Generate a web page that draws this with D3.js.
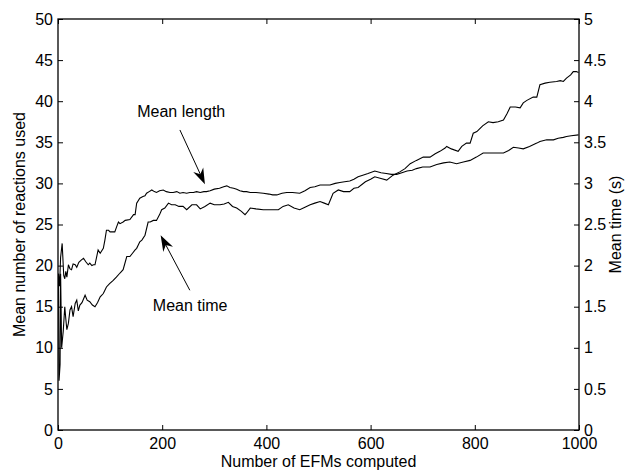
<!DOCTYPE html>
<html>
<head>
<meta charset="utf-8">
<script src="https://cdn.jsdelivr.net/npm/d3@7"></script>
<style>
  body { margin: 0; background: #fff; }
  svg text { font-family: "Liberation Sans", Arial, Helvetica, sans-serif; font-size: 16px; fill: #000; }
  .line { fill: none; stroke: #000; stroke-width: 1.1; }
  .frame line, .frame path { stroke: #000; }
</style>
</head>
<body>
<div id="chart"></div>
<script>
// number of EFMs computed vs mean length (reactions)
var lengthX = [1, 3, 5, 8, 11, 13, 15, 17, 20, 23, 26, 29, 33, 36, 40, 45, 49, 53, 58, 61, 65, 68, 71, 77, 81, 87, 90, 93, 97, 100,
  106, 109, 113, 116, 119, 125, 129, 138, 145, 148, 151, 157, 163, 167, 170, 175, 180, 185, 189, 195, 202, 208, 215, 221, 228,
  234, 240, 247, 253, 260, 266, 273, 280, 285, 292, 300, 310, 318, 324, 330, 337, 343, 349, 356, 362, 369, 380, 394, 405, 412,
  420, 430, 439, 450, 464, 474, 484, 493, 503, 512, 522, 532, 541, 550, 560, 568, 576, 585, 595, 608, 620, 630, 640, 650, 660,
  670, 680, 688, 700, 714, 727, 740, 752, 765, 778, 791, 803, 816, 830, 842, 855, 865, 874, 884, 893, 905, 919, 925, 938, 951,
  960, 970, 976, 985, 999];
var lengthY = [19, 17.5, 21, 22.7, 18.8, 18.4, 19.3, 18.6, 20.1, 19.6, 19.5, 20.2, 20.1, 19.8, 20.4, 20.7, 20.9, 20.5, 20.1, 20.3,
  20.0, 20.1, 20.1, 21.9, 21.5, 22.1, 23.1, 24.3, 24.3, 24.1, 24.1, 24.1, 24.8, 25.3, 25.1, 25.3, 25.5, 25.6, 26.2, 26.2, 27.6,
  28.2, 28.4, 28.5, 28.8, 29.0, 29.2, 29.0, 28.9, 29.1, 29.2, 29.0, 28.9, 28.9, 29.0, 28.8, 28.9, 28.8, 28.9, 28.9, 29.0, 28.9,
  29.0, 29.0, 29.1, 29.3, 29.4, 29.6, 29.7, 29.5, 29.4, 29.3, 29.1, 29.0, 29.0, 28.9, 28.9, 28.8, 28.7, 28.6, 28.6, 28.8, 28.9,
  28.9, 28.8, 29.1, 29.5, 29.6, 29.8, 29.8, 29.8, 30.0, 30.1, 30.2, 30.3, 30.5, 30.8, 31.0, 31.2, 31.5, 31.3, 31.2, 31.1, 31.1,
  31.3, 31.5, 31.6, 31.8, 32.0, 32.0, 32.3, 32.5, 32.6, 32.4, 32.6, 32.8, 33.2, 33.7, 33.7, 33.7, 33.7, 34.0, 34.4, 34.3, 34.2,
  34.5, 34.9, 35.1, 35.3, 35.3, 35.5, 35.6, 35.7, 35.8, 35.9];

// number of EFMs computed vs mean time (s)
var timeX = [1, 2, 4, 5, 7, 10, 13, 15, 17, 20, 23, 26, 29, 33, 36, 39, 42, 46, 52, 56, 61, 66, 71, 76, 81, 87, 93, 99, 106, 112,
  119, 125, 132, 138, 143, 148, 151, 157, 161, 167, 173, 177, 183, 189, 195, 199, 205, 212, 218, 225, 232, 240, 247, 257, 266,
  273, 282, 292, 300, 311, 319, 327, 335, 343, 352, 359, 362, 369, 380, 394, 408, 423, 432, 442, 453, 464, 474, 484, 493, 503,
  511, 519, 528, 538, 548, 560, 568, 576, 590, 600, 608, 620, 631, 643, 656, 666, 676, 688, 701, 714, 724, 733, 743, 746, 755,
  768, 775, 784, 791, 797, 804, 815, 826, 835, 845, 855, 862, 868, 878, 887, 893, 900, 912, 919, 925, 935, 944, 957, 964, 970,
  976, 984, 989, 995, 999];
var timeY = [1.9, 0.6, 0.8, 1.9, 1.0, 1.2, 1.5, 1.35, 1.22, 1.3, 1.46, 1.5, 1.38, 1.54, 1.58, 1.45, 1.52, 1.55, 1.64, 1.58,
  1.56, 1.52, 1.50, 1.55, 1.62, 1.66, 1.74, 1.78, 1.82, 1.86, 1.91, 1.95, 2.11, 2.11, 2.15, 2.19, 2.21, 2.29, 2.31, 2.37, 2.53,
  2.53, 2.55, 2.55, 2.62, 2.68, 2.70, 2.76, 2.74, 2.74, 2.72, 2.72, 2.68, 2.74, 2.74, 2.69, 2.72, 2.76, 2.74, 2.74, 2.75, 2.77,
  2.72, 2.70, 2.66, 2.62, 2.64, 2.70, 2.69, 2.68, 2.68, 2.68, 2.72, 2.74, 2.70, 2.68, 2.71, 2.74, 2.76, 2.78, 2.76, 2.74, 2.88,
  2.92, 2.90, 2.90, 2.94, 2.95, 3.02, 3.05, 3.08, 3.06, 3.04, 3.10, 3.14, 3.18, 3.24, 3.28, 3.32, 3.32, 3.36, 3.39, 3.43, 3.45,
  3.42, 3.39, 3.45, 3.49, 3.49, 3.61, 3.63, 3.70, 3.75, 3.74, 3.75, 3.77, 3.85, 3.93, 3.93, 3.92, 3.98, 4.01, 4.05, 4.05, 4.20,
  4.22, 4.23, 4.24, 4.25, 4.24, 4.28, 4.32, 4.36, 4.36, 4.35];

var xTicks = [0, 200, 400, 600, 800, 1000];
var leftTicks = [0, 5, 10, 15, 20, 25, 30, 35, 40, 45, 50];
var rightTicks = [0, 0.5, 1, 1.5, 2, 2.5, 3, 3.5, 4, 4.5, 5];

// annotations, in data units (x, left-axis value)
var notes = [
  { text: 'Mean length', tx: 152, ty: 38.1, from: [234, 36.5], to: [282, 29.9] },
  { text: 'Mean time', tx: 182, ty: 14.5, from: [253, 17.0], to: [197, 23.7] }
];

var margin = { top: 19, right: 49, bottom: 40, left: 58 };
var width = 628 - margin.left - margin.right,
    height = 470 - margin.top - margin.bottom;

var svg = d3.select('#chart')
  .append('svg')
    .attr('width', 628)
    .attr('height', 470)
  .append('g')
    .attr('transform', 'translate(' + margin.left + ',' + margin.top + ')');

var x = d3.scaleLinear().domain([0, 1000]).range([0, width]);
var yL = d3.scaleLinear().domain([0, 50]).range([height, 0]);
var yR = d3.scaleLinear().domain([0, 5]).range([height, 0]);

// axes: ticks pointing inwards like matlab
function styleAxis(g) {
  g.select('.domain').remove();
  g.selectAll('.tick line').attr('stroke', '#000');
  g.selectAll('.tick text').style('font-size', '16px').style('font-family', '"Liberation Sans", Arial, sans-serif');
}

svg.append('g')
    .attr('class', 'frame')
    .attr('transform', 'translate(0,' + height + ')')
    .call(d3.axisBottom(x).tickValues(xTicks).tickSizeInner(-5).tickSizeOuter(0).tickPadding(8).tickFormat(d3.format('d')))
    .call(styleAxis);

svg.append('g')
    .attr('class', 'frame')
    .call(d3.axisTop(x).tickValues(xTicks).tickSizeInner(-5).tickSizeOuter(0).tickFormat(''))
    .call(styleAxis);

svg.append('g')
    .attr('class', 'frame')
    .call(d3.axisLeft(yL).tickValues(leftTicks).tickSizeInner(-5).tickSizeOuter(0).tickPadding(5))
    .call(styleAxis);

svg.append('g')
    .attr('class', 'frame')
    .attr('transform', 'translate(' + width + ',0)')
    .call(d3.axisRight(yR).tickValues(rightTicks).tickSizeInner(-5).tickSizeOuter(0).tickPadding(5).tickFormat(d3.format('')))
    .call(styleAxis);

// box
svg.append('rect')
    .attr('width', width)
    .attr('height', height)
    .attr('fill', 'none')
    .attr('stroke', '#000')
    .attr('stroke-width', 1.3);

var lengthLine = d3.line()
    .x(function(d, i) { return x(lengthX[i]); })
    .y(function(d) { return yL(d); });

var timeLine = d3.line()
    .x(function(d, i) { return x(timeX[i]); })
    .y(function(d) { return yR(d); });

svg.append('path').attr('class', 'line').attr('d', lengthLine(lengthY));
svg.append('path').attr('class', 'line').attr('d', timeLine(timeY));

// annotations with filled arrow heads
notes.forEach(function (n) {
  svg.append('text')
      .attr('x', x(n.tx))
      .attr('y', yL(n.ty))
      .text(n.text);

  var x0 = x(n.from[0]), y0 = yL(n.from[1]),
      x1 = x(n.to[0]), y1 = yL(n.to[1]);
  var a = Math.atan2(y1 - y0, x1 - x0);
  var len = 16, half = 5.5, back = 11;
  function pt(d, s) {
    return [x1 - d * Math.cos(a) - s * Math.sin(a), y1 - d * Math.sin(a) + s * Math.cos(a)];
  }
  svg.append('line')
      .attr('x1', x0).attr('y1', y0)
      .attr('x2', pt(back, 0)[0]).attr('y2', pt(back, 0)[1])
      .attr('stroke', '#000');
  svg.append('path')
      .attr('d', 'M' + [[x1, y1], pt(len, half), pt(back, 0), pt(len, -half)].join('L') + 'Z')
      .attr('fill', '#000');
});

// axis titles
svg.append('text')
    .attr('x', width / 2)
    .attr('y', height + 37)
    .attr('text-anchor', 'middle')
    .text('Number of EFMs computed');

svg.append('text')
    .attr('transform', 'translate(' + (-33) + ',' + (height / 2) + ') rotate(-90)')
    .attr('text-anchor', 'middle')
    .text('Mean number of reactions used');

svg.append('text')
    .attr('transform', 'translate(' + (width + 42) + ',' + (height / 2) + ') rotate(-90)')
    .attr('text-anchor', 'middle')
    .text('Mean time (s)');
</script>
</body>
</html>
